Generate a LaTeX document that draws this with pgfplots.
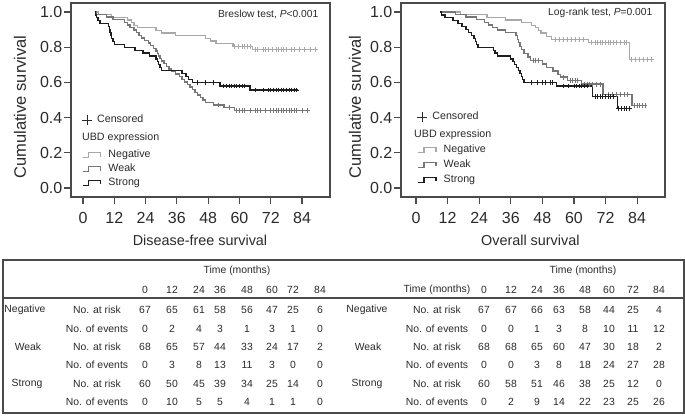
\documentclass[border=0pt]{standalone}
\usepackage{pgfplots}
\pgfplotsset{compat=1.18}
\usepackage{fontspec}
\setmainfont{Liberation Sans}
\definecolor{neg}{HTML}{A8A8A8}
\definecolor{weak}{HTML}{767676}
\definecolor{strong}{HTML}{1E1E1E}
\definecolor{frame}{HTML}{4A4A4A}
\definecolor{txt}{HTML}{2A2A2A}

\pgfplotsset{
  kmbase/.style={
    scale only axis,
    height=145.5pt,
    ymin=-0.051, ymax=1.051,
    xtick={0,12,24,36,48,60,72,84},
    ytick={0,0.2,0.4,0.6,0.8,1},
    yticklabels={0.0,0.2,0.4,0.6,0.8,1.0},
    tick align=outside, major tick length=5pt,
    xtick pos=left, ytick pos=left,
    tick style={frame, line width=0.9pt},
    axis line style={frame, line width=1pt},
    tick label style={font=\fontsize{12}{14}\selectfont, text=txt},
    xticklabel style={anchor=north, yshift=-3pt},
    yticklabel style={anchor=east, xshift=2pt},
    /pgf/number format/assume math mode=true,
    label style={text=txt},
    xlabel style={font=\fontsize{10.8}{13}\selectfont, anchor=center},
    ylabel style={font=\fontsize{12.4}{14}\selectfont, anchor=center},
  },
  legbase/.style={
    scale only axis, height=145.5pt, hide axis,
    xmin=0, xmax=1, ymin=0, ymax=1,
    legend cell align=left,
    legend style={draw=none, fill=none, font=\fontsize{8}{9.6}\selectfont, text=txt,
      inner sep=0pt, anchor=west, column sep=5.25pt, nodes={inner sep=0pt}},
  },
  stepimg/.style={legend image code/.code={\draw[##1] (0pt,-1.9pt) -- (4.5pt,-1.9pt) -- (4.5pt,1.9pt) -- (13.5pt,1.9pt) -- (13.5pt,-1.1pt);}},
  censimg/.style={legend image code/.code={\draw[##1] plot coordinates {(3.75pt,0pt)};}},
  cens/.style={only marks, mark=+, mark size=1.8pt, mark options={line width=0.6pt}, forget plot},
  curve/.style={const plot, line width=1pt, forget plot},
}

% one legend row, drawn by its own hidden axis placed over the plot
\newcommand{\legrow}[3]{%
  \begin{axis}[legbase, #1]
  \addlegendimage{#2}
  \addlegendentry{#3}
  \end{axis}}

\newcommand{\tabrow}[3]{%
  \foreach \v [count=\i from 0] in {#3} {%
    \pgfmathsetmacro{\xx}{{#1}[\i]}%
    \node at (\xx,#2) {\v};
  }}

\begin{document}
\begin{tikzpicture}
\path[use as bounding box] (0,0) rectangle (513.75pt,312pt);

% ---------------- Disease-free survival ----------------
\begin{axis}[kmbase, at={(53.25pt,164.25pt)}, anchor=south west, width=194.25pt,
  xmin=-4.6, xmax=94.7,
  xlabel={Disease-free survival}, ylabel={Cumulative survival},
  xlabel style={at={(axis description cs:0.498,-0.222)}},
  ylabel style={at={(axis description cs:-0.197,0.464)}}]
\addplot[curve, neg] coordinates {(4.5,1.0)(6,0.985)(11,0.970)(17,0.955)(18.5,0.940)(19.5,0.925)(21,0.910)(28,0.896)(30,0.881)(35.5,0.866)(47,0.851)(49,0.836)(51,0.820)(57.5,0.805)(65,0.785)(89,0.785)};
\addplot[cens, neg] coordinates {(58,0.805)(59.5,0.805)(61,0.805)(62,0.805)(63,0.805)(64,0.805)(66,0.785)(67,0.785)(69,0.785)(70,0.785)(71,0.785)(72.5,0.785)(74,0.785)(75,0.785)(76,0.785)(77,0.785)(78,0.785)(80,0.785)(81,0.785)(83,0.785)(85,0.785)(87,0.785)(89,0.785)};
\addplot[curve, weak] coordinates {(4.5,1.0)(5,0.985)(9,0.971)(11.5,0.956)(16,0.941)(17,0.926)(18,0.912)(19.5,0.897)(20.5,0.882)(21.5,0.868)(22.5,0.853)(23.5,0.838)(25,0.823)(26,0.809)(27,0.794)(28,0.779)(28.5,0.765)(29,0.750)(29.5,0.735)(30,0.721)(31,0.706)(32,0.691)(33,0.676)(34,0.662)(35.5,0.647)(37,0.632)(38,0.617)(39,0.603)(40,0.588)(41,0.573)(42,0.558)(43,0.544)(44,0.529)(45,0.514)(46,0.500)(47,0.485)(50,0.471)(54,0.456)(58,0.441)(86,0.441)};
\addplot[cens, weak] coordinates {(52,0.471)(56,0.456)(59,0.441)(60,0.441)(61,0.441)(62,0.441)(64,0.441)(66,0.441)(67,0.441)(68,0.441)(70,0.441)(72,0.441)(73,0.441)(74,0.441)(75,0.441)(76,0.441)(77,0.441)(78,0.441)(79,0.441)(80,0.441)(81,0.441)(82,0.441)(84,0.441)(86,0.441)};
\addplot[curve, strong] coordinates {(4.5,1.0)(4.8,0.983)(5.2,0.967)(5.8,0.950)(6.5,0.933)(9.8,0.917)(10.1,0.900)(10.4,0.883)(10.7,0.867)(11,0.850)(11.5,0.833)(12.2,0.817)(16,0.800)(20,0.783)(23,0.767)(25.5,0.750)(28,0.733)(28.5,0.717)(29,0.700)(29.5,0.683)(30,0.667)(38,0.650)(39.5,0.633)(40.5,0.616)(42,0.598)(52.5,0.580)(64,0.557)(82.5,0.557)};
\addplot[cens, strong] coordinates {(44,0.598)(47,0.598)(50,0.598)(54,0.580)(55,0.580)(56,0.580)(57,0.580)(58,0.580)(59,0.580)(60,0.580)(61,0.580)(62,0.580)(66,0.557)(69,0.557)(71,0.557)(72,0.557)(73,0.557)(74,0.557)(75,0.557)(76,0.557)(77,0.557)(78,0.557)(79,0.557)(80,0.557)(81,0.557)(82,0.557)};
\node[anchor=east, font=\fontsize{7.7}{9}\selectfont, text=txt] at (axis description cs:0.973,0.943) {Breslow test, \textit{P}<0.001};
\node[anchor=west, inner sep=0pt, font=\fontsize{8}{9.6}\selectfont, text=txt] at (axis description cs:0.042,0.304) {UBD expression};
\end{axis}
\legrow{at={(53.25pt,164.25pt)}, anchor=south west, width=194.25pt, legend style={at={(axis description cs:0.042,0.397)}, column sep=3.75pt}}{only marks, mark=+, mark size=3.75pt, txt, line width=0.7pt, censimg}{Censored}
\legrow{at={(53.25pt,164.25pt)}, anchor=south west, width=194.25pt, legend style={at={(axis description cs:0.042,0.216)}}}{stepimg, neg, line width=1pt}{Negative}
\legrow{at={(53.25pt,164.25pt)}, anchor=south west, width=194.25pt, legend style={at={(axis description cs:0.042,0.144)}}}{stepimg, weak, line width=1pt}{Weak}
\legrow{at={(53.25pt,164.25pt)}, anchor=south west, width=194.25pt, legend style={at={(axis description cs:0.042,0.072)}}}{stepimg, strong, line width=1pt}{Strong}

% ---------------- Overall survival ----------------
\begin{axis}[kmbase, at={(300.75pt,164.25pt)}, anchor=south west, width=198pt,
  xmin=-5.7, xmax=94.6,
  xlabel={Overall survival}, ylabel={Cumulative survival},
  xlabel style={at={(axis description cs:0.49,-0.222)}},
  ylabel style={at={(axis description cs:-0.174,0.464)}}]
\addplot[curve, neg] coordinates {(9.2,1.0)(17,0.985)(27,0.970)(34,0.955)(40,0.940)(44,0.925)(45.5,0.910)(46.5,0.895)(47.5,0.880)(49.5,0.862)(51.5,0.845)(65.5,0.825)(81,0.73)(89.5,0.73)};
\addplot[cens, neg] coordinates {(53,0.845)(54.5,0.845)(56,0.845)(57.5,0.845)(59,0.845)(60.5,0.845)(62,0.845)(63.5,0.845)(66.5,0.825)(68,0.825)(69,0.825)(70,0.825)(71,0.825)(72,0.825)(73,0.825)(74,0.825)(75,0.825)(76,0.825)(77.5,0.825)(79,0.825)(80,0.825)(82,0.73)(83.5,0.73)(85,0.73)(86.5,0.73)(88,0.73)(89.5,0.73)};
\addplot[curve, weak] coordinates {(9.2,1.0)(15,0.985)(19,0.971)(23,0.956)(26,0.941)(27.5,0.926)(29,0.912)(31,0.897)(34,0.882)(38,0.865)(38.5,0.845)(39,0.825)(39.5,0.805)(40,0.785)(41,0.765)(42.5,0.745)(43.5,0.725)(48,0.705)(49.5,0.685)(52,0.665)(54,0.645)(55,0.63)(57.5,0.612)(63,0.59)(71,0.53)(82,0.47)(87,0.47)};
\addplot[cens, weak] coordinates {(44.5,0.725)(45.5,0.725)(46.5,0.725)(56,0.63)(58.5,0.612)(59.5,0.612)(60.5,0.612)(61.5,0.612)(64,0.59)(65,0.59)(66,0.59)(67,0.59)(68.5,0.59)(70,0.59)(73,0.53)(74.5,0.53)(76,0.53)(77.5,0.53)(79,0.53)(80.5,0.53)(83,0.47)(84,0.47)(85,0.47)(86,0.47)(87,0.47)};
\addplot[curve, strong] coordinates {(9.2,1.0)(9.8,0.983)(11,0.967)(14,0.950)(16,0.933)(17.5,0.917)(19,0.900)(20,0.883)(21,0.867)(22,0.850)(22.5,0.833)(23,0.817)(23.5,0.800)(29.5,0.783)(30,0.767)(31,0.750)(36,0.733)(36.8,0.717)(37.5,0.700)(38.3,0.683)(39,0.667)(39.5,0.650)(40,0.633)(40.5,0.616)(41,0.598)(53.5,0.580)(67,0.520)(76.5,0.450)(81,0.450)};
\addplot[cens, strong] coordinates {(44,0.598)(46,0.598)(48,0.598)(49,0.598)(51,0.598)(52,0.598)(56,0.58)(58,0.58)(60,0.58)(61,0.58)(62,0.58)(63,0.58)(64,0.58)(65,0.58)(68,0.52)(69,0.52)(70,0.52)(71,0.52)(72,0.52)(73,0.52)(74,0.52)(75,0.52)(77,0.45)(78,0.45)(79,0.45)(80,0.45)(81,0.45)};
\node[anchor=east, font=\fontsize{7.7}{9}\selectfont, text=txt] at (axis description cs:0.970,0.948) {Log-rank test, \textit{P}=0.001};
\node[anchor=west, inner sep=0pt, font=\fontsize{8}{9.6}\selectfont, text=txt] at (axis description cs:0.049,0.320) {UBD expression};
\end{axis}
\legrow{at={(300.75pt,164.25pt)}, anchor=south west, width=198pt, legend style={at={(axis description cs:0.061,0.412)}, column sep=3.75pt}}{only marks, mark=+, mark size=3.75pt, txt, line width=0.7pt, censimg}{Censored}
\legrow{at={(300.75pt,164.25pt)}, anchor=south west, width=198pt, legend style={at={(axis description cs:0.061,0.242)}}}{stepimg, neg, line width=1pt}{Negative}
\legrow{at={(300.75pt,164.25pt)}, anchor=south west, width=198pt, legend style={at={(axis description cs:0.061,0.165)}}}{stepimg, weak, line width=1pt}{Weak}
\legrow{at={(300.75pt,164.25pt)}, anchor=south west, width=198pt, legend style={at={(axis description cs:0.061,0.088)}}}{stepimg, strong, line width=1pt}{Strong}

% ---------------- Table ----------------
\begin{scope}[shift={(0pt,312pt)}, x=0.75pt, y=-0.75pt, font=\fontsize{7.8}{9}\selectfont, text=txt, inner sep=0pt]
\draw[frame, line width=1pt] (3,260) rectangle (684,413);
\draw[frame, line width=0.9pt] (3,298) -- (684,298);
% left half
\node at (237,271) {Time (months)};
\def\LX{145,172,199,220,247,272,293,320}
\tabrow{\LX}{290}{0,12,24,36,48,60,72,84}
\node at (25,310) {Negative};
\node at (28,347) {Weak};
\node at (27,384) {Strong};
\foreach \yy in {310,347,384} {\node at (97,\yy) {No. at risk};}
\foreach \yy in {329,365,402} {\node at (97,\yy) {No. of events};}
\tabrow{\LX}{310}{67,65,61,58,56,47,25,6}
\tabrow{\LX}{329}{0,2,4,3,1,3,1,0}
\tabrow{\LX}{347}{68,65,57,44,33,24,17,2}
\tabrow{\LX}{365}{0,3,8,13,11,3,0,0}
\tabrow{\LX}{384}{60,50,45,39,34,25,14,0}
\tabrow{\LX}{402}{0,10,5,5,4,1,1,0}
% right half
\node at (583,271) {Time (months)};
\node at (437,290) {Time (months)};
\def\RX{484,511,537,559,585,609,633,659}
\tabrow{\RX}{290}{0,12,24,36,48,60,72,84}
\node at (367,310) {Negative};
\node at (368,347) {Weak};
\node at (367,384) {Strong};
\foreach \yy in {310,347,384} {\node at (437,\yy) {No. at risk};}
\foreach \yy in {329,365,402} {\node at (437,\yy) {No. of events};}
\tabrow{\RX}{310}{67,67,66,63,58,44,25,4}
\tabrow{\RX}{329}{0,0,1,3,8,10,11,12}
\tabrow{\RX}{347}{68,68,65,60,47,30,18,2}
\tabrow{\RX}{365}{0,0,3,8,18,24,27,28}
\tabrow{\RX}{384}{60,58,51,46,38,25,12,0}
\tabrow{\RX}{402}{0,2,9,14,22,23,25,26}
\end{scope}
\end{tikzpicture}
\end{document}
